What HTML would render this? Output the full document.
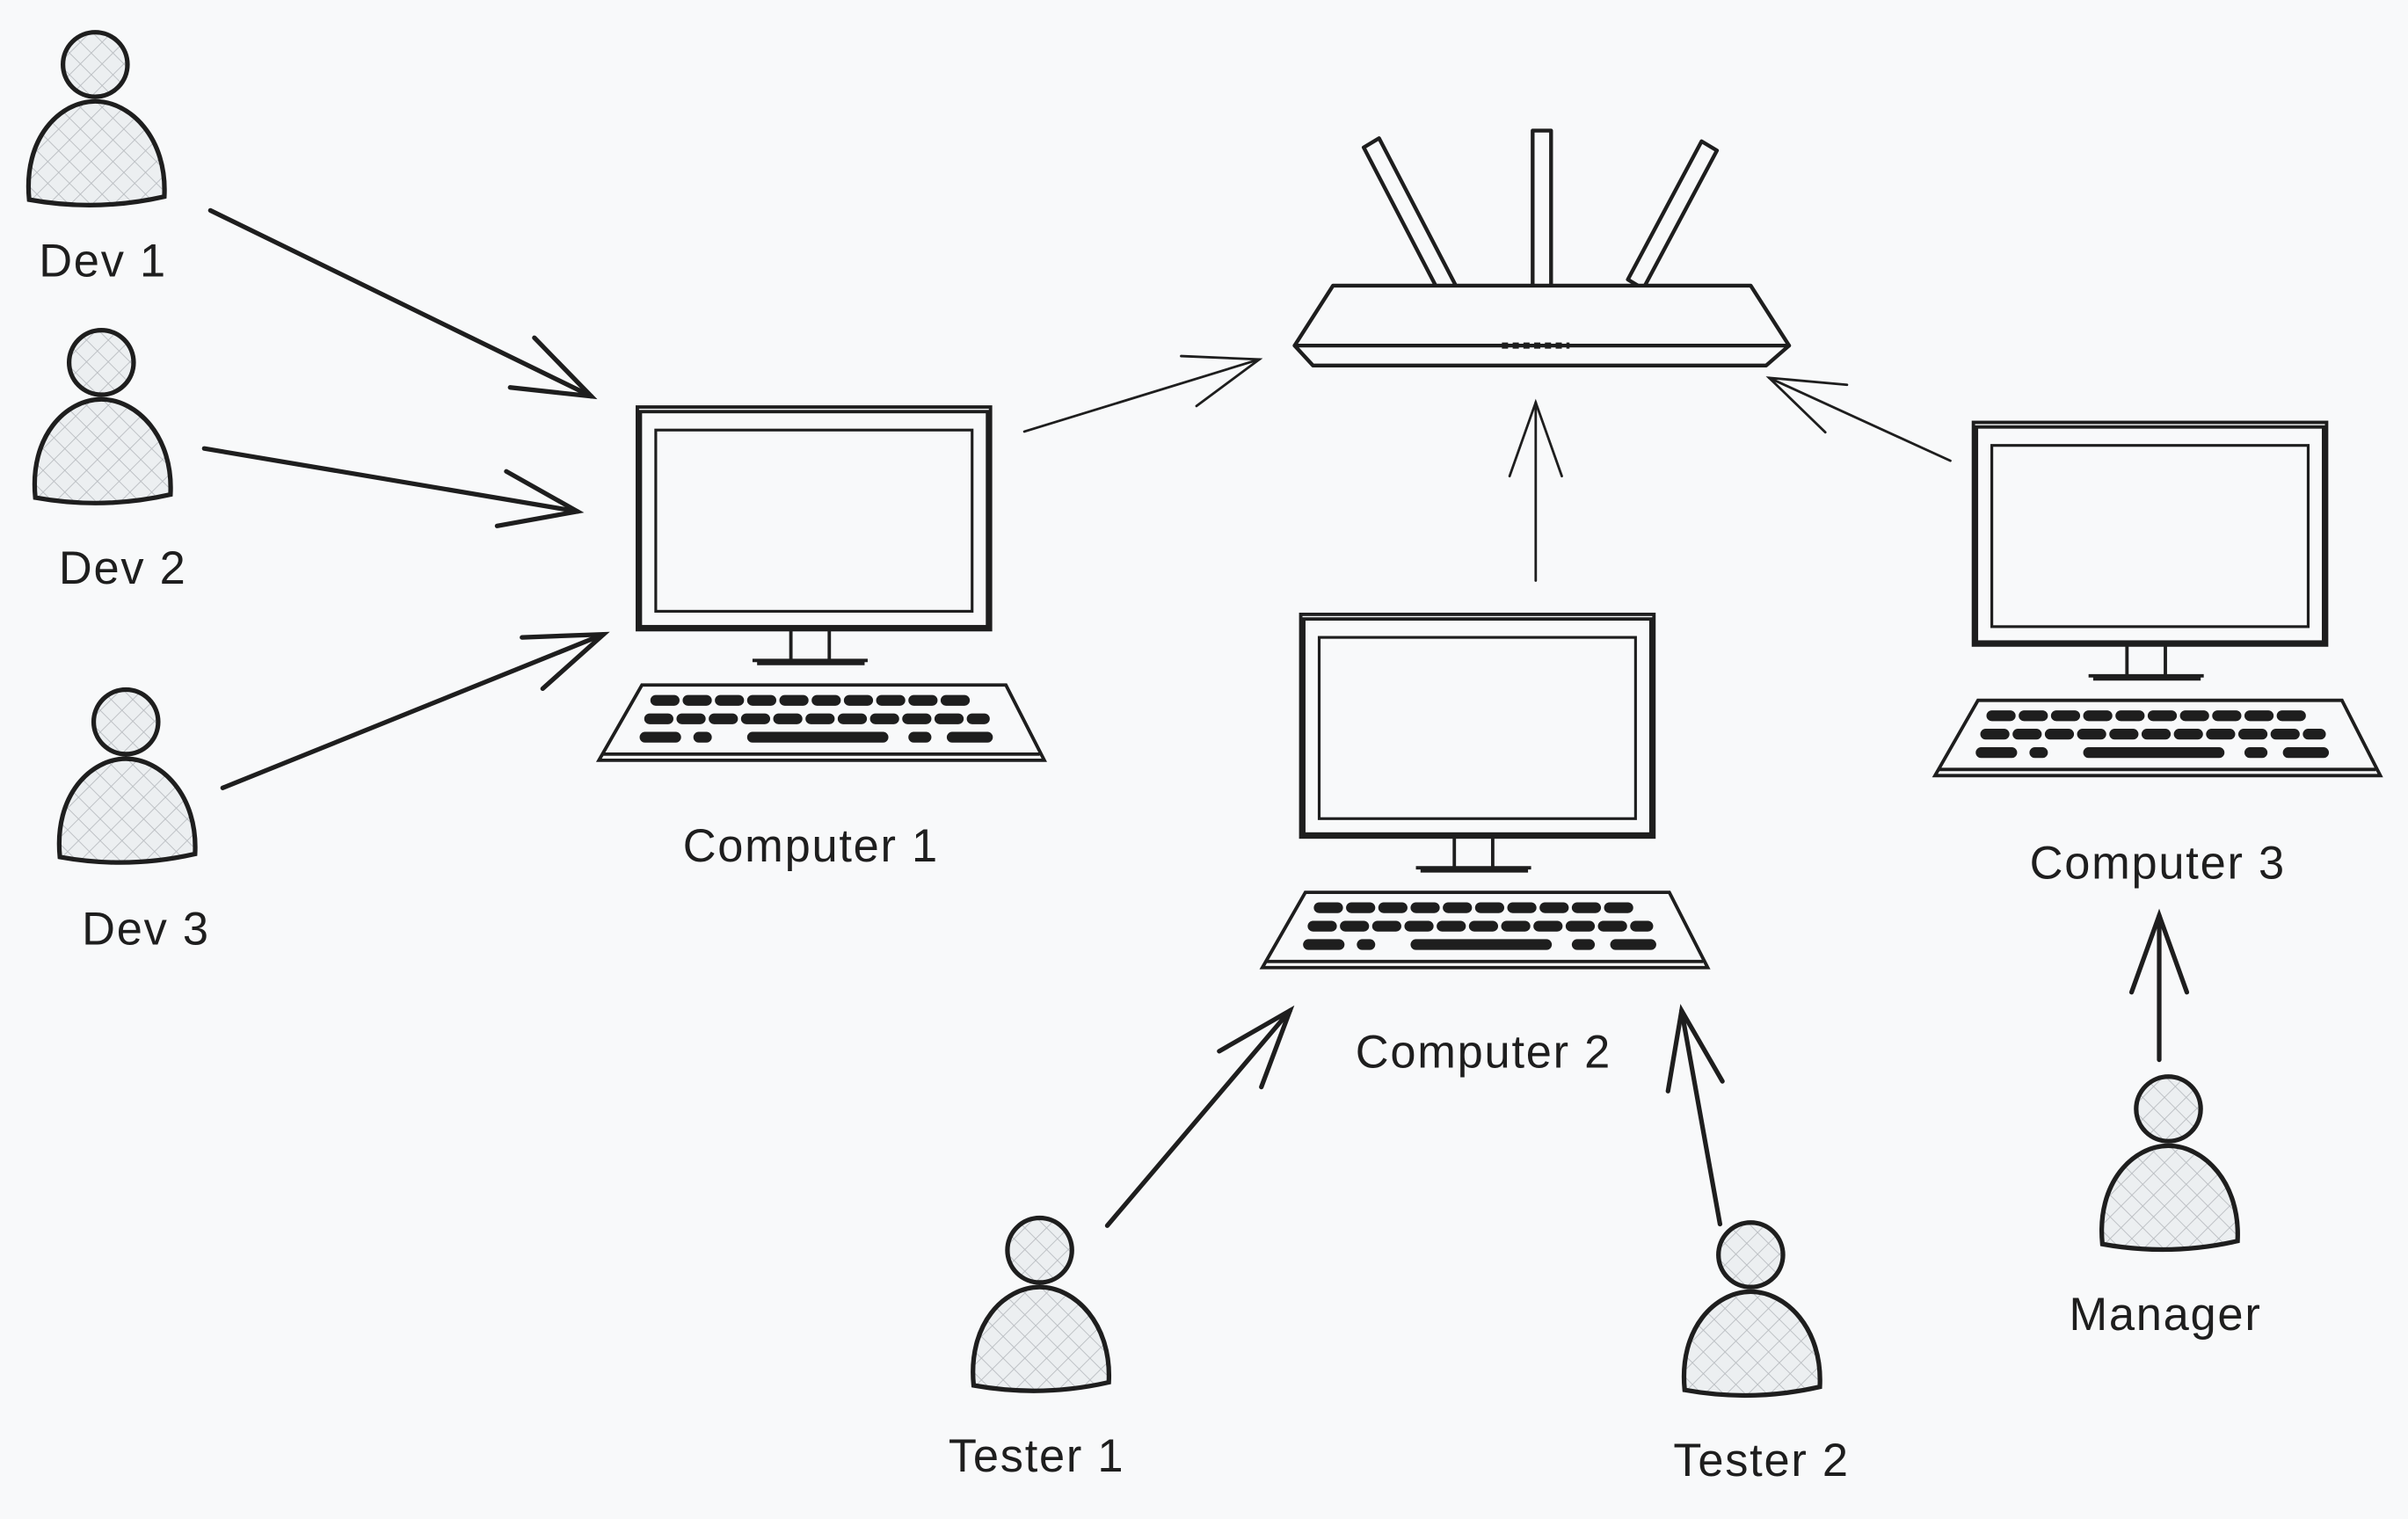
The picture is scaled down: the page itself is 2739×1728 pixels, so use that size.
<!DOCTYPE html>
<html><head><meta charset="utf-8"><style>
html,body{margin:0;padding:0;background:#f8f9fa;}
svg{display:block;}
text{font-family:"Liberation Sans",sans-serif;font-size:30px;fill:#1e1e1e;text-anchor:middle;letter-spacing:1px;}
</style></head><body>
<svg width="2739" height="1728" viewBox="0 0 1568 989" preserveAspectRatio="none" xmlns="http://www.w3.org/2000/svg">
<defs>
<pattern id="h" width="10" height="10" patternUnits="userSpaceOnUse" patternTransform="rotate(45)">
<rect width="10" height="10" fill="#eceff1"/>
<path d="M0,0 V10 M0,0 H10" stroke="#b8bcc0" stroke-width="1"/>
</pattern>
<marker id="a" markerUnits="userSpaceOnUse" markerWidth="80" markerHeight="60" refX="0" refY="0" viewBox="-60 -30 80 60" orient="auto">
<path d="M-50,-18 L0,0 L-50,18" fill="none" stroke="#1e1e1e" stroke-width="3" stroke-linecap="round"/>
</marker>
<marker id="b" markerUnits="userSpaceOnUse" markerWidth="80" markerHeight="60" refX="0" refY="0" viewBox="-60 -30 80 60" orient="auto">
<path d="M-48,-17 L0,0 L-48,17" fill="none" stroke="#1e1e1e" stroke-width="1.6" stroke-linecap="round"/>
</marker>
<g id="p" stroke="#1e1e1e" stroke-width="3" fill="url(#h)">
<path d="M2,110 C-2,70 22,46 45,46 C68,46 92,70 90,108 Q46,118 2,110 Z"/>
<circle cx="45" cy="22" r="21"/>
</g>
<g id="c" stroke="#1e1e1e" fill="none" stroke-width="2.2">
<rect x="0" y="0" width="230" height="145" fill="#f8f9fa"/>
<rect x="2" y="3" width="226" height="140"/>
<rect x="12" y="15" width="206" height="118" stroke-width="1.8"/>
<path d="M100,145 V165 M125,145 V165 M75,165 H150 M78,167 H148"/>
<path d="M3,181 H240 L265,230 H-25 Z M-22,226 H262"/>
<g stroke-width="7" stroke-linecap="round">
<path d="M12,191 H220" stroke-dasharray="12 9"/>
<path d="M8,203 H226" stroke-dasharray="12 9"/>
<path d="M5,215 H25 M40,215 H45 M75,215 H160 M180,215 H188 M205,215 H228"/>
</g>
</g>
</defs>

<use href="#p" x="17" y="20"/>
<use href="#p" x="21" y="214"/>
<use href="#p" x="37" y="448"/>
<use href="#p" x="632" y="792"/>
<use href="#p" x="1095" y="795"/>
<use href="#p" x="1367" y="700"/>

<use href="#c" x="415" y="265"/>
<use href="#c" x="847" y="400"/>
<use href="#c" x="1285" y="275"/>

<!-- router -->
<g stroke="#1e1e1e" stroke-width="2.5" fill="#f8f9fa" stroke-linejoin="round">
<path d="M888,96 L898,90 L948,186 L938,192 Z"/>
<path d="M998,85 H1010 V210 H998 Z"/>
<path d="M1108,92 L1118,98 L1070,188 L1060,182 Z"/>
<path d="M868,186 H1140 L1165,225 H843 Z"/>
<path d="M843,225 H1165 L1150,238 H855 Z"/>
<path d="M978,225 H1022" stroke-dasharray="4 3" stroke-width="4"/>
</g>

<!-- arrows -->
<g stroke="#1e1e1e" fill="none" stroke-linecap="round">
<path d="M137,137 L385,258" stroke-width="3" marker-end="url(#a)"/>
<path d="M133,292 L376,333" stroke-width="3" marker-end="url(#a)"/>
<path d="M145,513 L393,413" stroke-width="3" marker-end="url(#a)"/>
<path d="M721,798 L840,658" stroke-width="3" marker-end="url(#a)"/>
<path d="M1120,797 L1095,658" stroke-width="3" marker-end="url(#a)"/>
<path d="M1406,690 L1406,596" stroke-width="3" marker-end="url(#a)"/>
<path d="M667,281 L820,234" stroke-width="1.6" marker-end="url(#b)"/>
<path d="M1000,378 L1000,262" stroke-width="1.6" marker-end="url(#b)"/>
<path d="M1270,300 L1152,246" stroke-width="1.6" marker-end="url(#b)"/>
</g>

<text x="67" y="180">Dev 1</text>
<text x="80" y="380">Dev 2</text>
<text x="95" y="615">Dev 3</text>
<text x="528" y="561">Computer 1</text>
<text x="966" y="695">Computer 2</text>
<text x="1405" y="572">Computer 3</text>
<text x="675" y="958">Tester 1</text>
<text x="1147" y="961">Tester 2</text>
<text x="1410" y="866">Manager</text>
</svg>
</body></html>
